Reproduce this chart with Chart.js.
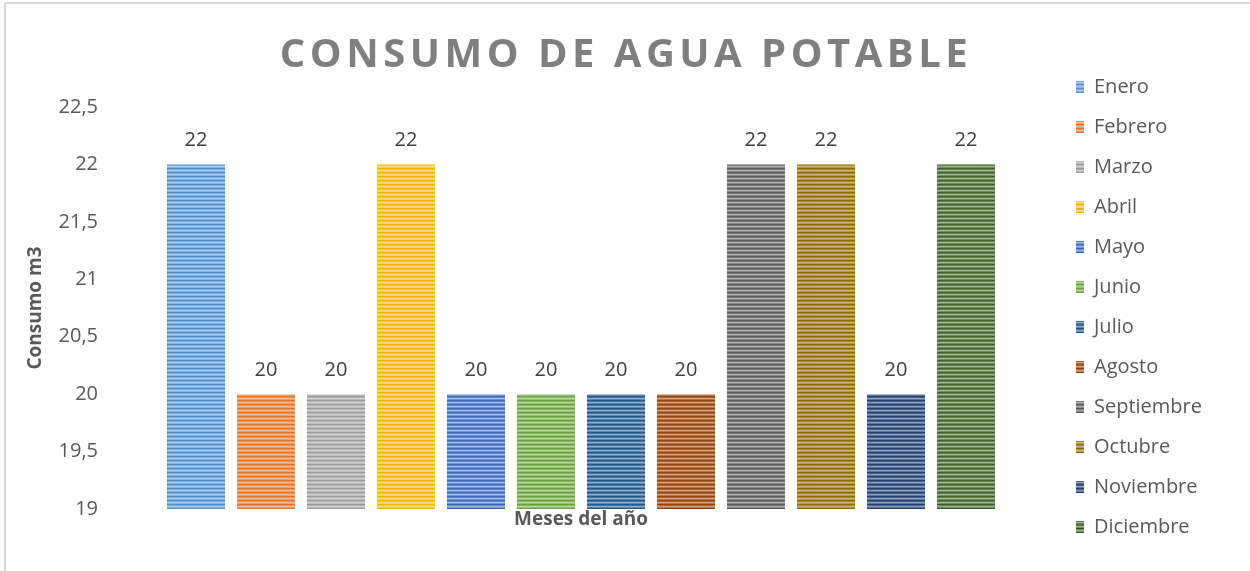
<!DOCTYPE html>
<html><head><meta charset="utf-8">
<script src="https://cdn.jsdelivr.net/npm/chart.js@4.4.1/dist/chart.umd.min.js"></script>
<style>
html,body{margin:0;padding:0;background:#fff;overflow:hidden}
#wrap{position:relative;width:1250px;height:571px}
#frame{position:absolute;left:4px;top:2px;width:1300px;height:700px;border:2px solid #d9d9d9;box-sizing:border-box}
canvas{position:absolute;left:0;top:0}
</style></head><body>
<div id="wrap"><div id="frame"></div><canvas id="c" width="1250" height="571"></canvas></div>
<script>
const chartTitle = 'CONSUMO DE AGUA POTABLE';
const xTitle = 'Meses del año';
const yTitle = 'Consumo m3';
const months = ['Enero','Febrero','Marzo','Abril','Mayo','Junio','Julio','Agosto','Septiembre','Octubre','Noviembre','Diciembre'];
const consumo = [22,20,20,22,20,20,20,20,22,22,20,22];
const colors = ['#5B9BD5','#ED7D31','#A5A5A5','#FFC000','#4472C4','#70AD47','#255E91','#9E480E','#636363','#997300','#264478','#43682B'];
const yMin = 19, yMax = 22.5, yStep = 0.5;

const canvas = document.getElementById('c');
const mainCtx = canvas.getContext('2d');

function mix(hex, t){
  const n = parseInt(hex.slice(1),16);
  let r = n>>16, g = (n>>8)&255, b = n&255;
  if (t > 0){ r += (255-r)*t; g += (255-g)*t; b += (255-b)*t; }
  else { r *= 1+t; g *= 1+t; b *= 1+t; }
  return `rgb(${Math.round(r)},${Math.round(g)},${Math.round(b)})`;
}
function stripes(hex){
  const c = document.createElement('canvas');
  c.width = 8; c.height = 4;
  const x = c.getContext('2d');
  const rows = [mix(hex,-0.06), mix(hex,0.15), mix(hex,0.5), mix(hex,0.25)];
  rows.forEach((col,i)=>{ x.fillStyle = col; x.fillRect(0,i,8,1); });
  return mainCtx.createPattern(c,'repeat');
}

const datasets = months.map((m,i)=>({
  label: m,
  data: months.map((_,j)=> j===i ? consumo[i] : null),
  backgroundColor: stripes(colors[i]),
  borderWidth: 0,
  categoryPercentage: 1,
  barPercentage: 58/70
}));

const valueLabels = {
  id: 'valueLabels',
  afterDatasetsDraw(chart){
    const ctx = chart.ctx;
    ctx.save();
    ctx.font = '20px "Open Sans"';
    ctx.fillStyle = '#404040';
    ctx.textAlign = 'center';
    ctx.textBaseline = 'middle';
    chart.data.datasets.forEach((ds,i)=>{
      const meta = chart.getDatasetMeta(i);
      meta.data.forEach((el,j)=>{
        const v = ds.data[j];
        if (v == null) return;
        ctx.fillText(String(v).replace('.',','), el.x, el.y - 24);
      });
    });
    ctx.restore();
  }
};

const titleSpacing = {
  id: 'titleSpacing',
  beforeDraw(chart){
    const t = chart.titleBlock;
    if (t && !t._spaced){
      const orig = t.draw.bind(t);
      t.draw = function(){
        const ctx = this.ctx;
        ctx.save();
        ctx.letterSpacing = '4.5px';
        ctx.translate(20, 1);
        orig();
        ctx.restore();
      };
      t._spaced = true;
    }
  }
};

new Chart(canvas, {
  type: 'bar',
  data: { labels: months, datasets },
  plugins: [valueLabels, titleSpacing],
  options: {
    responsive: false,
    animation: false,
    layout: { padding: { left: 0, top: 0, right: 38, bottom: 14 } },
    datasets: { bar: { grouped: false } },
    plugins: {
      tooltip: { enabled: false },
      title: {
        display: true,
        text: chartTitle,
        color: '#7f7f7f',
        font: { family: 'Open Sans', size: 40, weight: 'bold', lineHeight: 1.2 },
        padding: { top: 31, bottom: 28 }
      },
      legend: {
        position: 'right',
        align: 'end',
        labels: {
          boxWidth: 8, boxHeight: 12, padding: 20,
          color: '#595959',
          font: { family: 'Open Sans', size: 20 }
        }
      }
    },
    scales: {
      x: {
        grid: { display: false, drawTicks: false },
        border: { display: false },
        ticks: { display: false },
        title: {
          display: true, text: xTitle, color: '#595959',
          font: { family: 'Open Sans', size: 19, weight: 'bold', lineHeight: 1.2 },
          padding: { top: 0, bottom: 26 }
        },
        afterFit(s){ s.height = 48; }
      },
      y: {
        min: yMin, max: yMax,
        grid: { display: false, drawTicks: false },
        border: { display: false },
        ticks: {
          stepSize: yStep, padding: 63, color: '#595959',
          font: { family: 'Open Sans', size: 20 },
          callback: v => String(v).replace('.', ',')
        },
        title: {
          display: true, text: yTitle, color: '#595959',
          font: { family: 'Open Sans', size: 19, weight: 'bold', lineHeight: 1.2 },
          padding: { top: 24, bottom: 0 }
        },
        afterFit(s){ s.width = 161; s.paddingTop = 12; s.paddingBottom = 12; }
      },
      gap: {
        position: 'right',
        display: true,
        grid: { display: false, drawTicks: false },
        border: { display: false },
        ticks: { display: false },
        afterFit(s){ s.width = 55; }
      }
    }
  }
});
</script>
</body></html>
